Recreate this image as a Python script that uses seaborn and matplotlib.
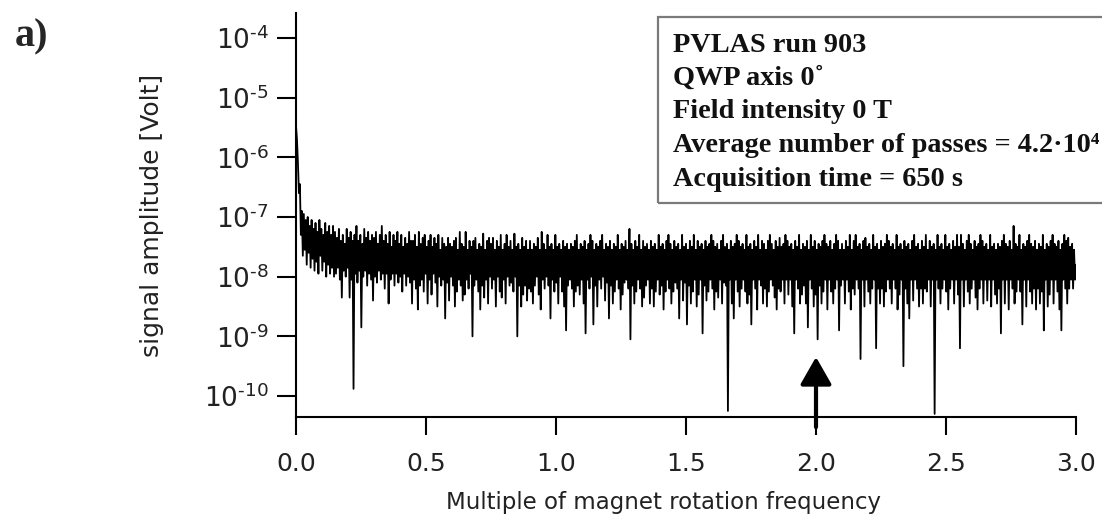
import numpy as np
import pandas as pd
import matplotlib
matplotlib.use("Agg")
import matplotlib.pyplot as plt
from matplotlib.patches import Rectangle
from matplotlib.ticker import NullLocator, FixedLocator
import seaborn as sns

# ---------------- data ----------------
freq_step = 0.00375         # bin spacing in multiples of the rotation frequency
# log10 of the signal amplitude [Volt], one value per bin from 0.0 to 3.0
log_amp = [
    # 0.00 - 0.15
    -5.47, -5.70, -6.10, -6.60, -6.45, -7.30, -6.90, -7.65, -6.95, -7.55, -7.05, -7.80, -7.00, -7.60, -7.15, -7.85, -7.05, -7.70, -7.20, -7.90,
    -7.10, -7.75, -7.25, -7.95, -7.05, -7.65, -7.20, -7.90, -7.30, -7.75, -7.10, -8.00, -7.25, -7.80, -7.15, -7.95, -7.30, -7.85, -7.15, -8.00,
    # 0.15 - 0.30
    -7.25, -7.95, -7.35, -7.85, -7.20, -8.05, -7.40, -8.35, -7.30, -7.90, -7.45, -8.00, -7.20, -7.85, -7.35, -8.35, -7.25, -8.05, -7.40, -9.88,
    -7.30, -7.95, -7.15, -8.10, -7.40, -7.90, -7.30, -8.85, -7.45, -8.00, -7.20, -7.90, -7.35, -8.15, -7.25, -7.95, -7.40, -8.05, -7.30, -8.40,
    # 0.30 - 0.45
    -7.35, -8.00, -7.25, -8.10, -7.45, -7.90, -7.30, -8.05, -7.15, -7.95, -7.40, -8.20, -7.30, -7.95, -7.45, -8.45, -7.25, -8.05, -7.50, -7.95,
    -7.30, -8.15, -7.40, -7.95, -7.25, -8.10, -7.45, -8.00, -7.30, -8.25, -7.50, -7.95, -7.35, -8.15, -7.45, -8.00, -7.25, -8.10, -7.40, -8.45,
    # 0.45 - 0.60
    -7.40, -8.05, -7.30, -8.20, -7.50, -8.55, -7.25, -8.15, -7.45, -8.05, -7.35, -8.25, -7.30, -7.95, -7.50, -8.45, -7.40, -8.05, -7.30, -8.30,
    -7.50, -7.95, -7.35, -8.10, -7.45, -8.50, -7.30, -8.00, -7.55, -8.15, -7.35, -8.05, -7.45, -8.70, -7.50, -8.10, -7.35, -8.40, -7.45, -8.00,
    # 0.60 - 0.75
    -7.50, -8.15, -7.40, -8.50, -7.35, -8.25, -7.55, -8.05, -7.25, -8.15, -7.45, -8.40, -7.50, -8.30, -7.25, -8.05, -7.55, -8.20, -7.40, -7.95,
    -7.50, -9.00, -7.40, -8.15, -7.35, -8.05, -7.55, -8.25, -7.45, -8.55, -7.50, -8.15, -7.28, -8.35, -7.55, -8.05, -7.40, -8.45, -7.35, -8.00,
    # 0.75 - 0.90
    -7.45, -8.20, -7.35, -8.05, -7.55, -8.50, -7.40, -8.00, -7.50, -8.25, -7.30, -8.35, -7.55, -8.05, -7.45, -8.45, -7.30, -8.00, -7.50, -8.15,
    -7.40, -8.10, -7.55, -8.25, -7.28, -8.00, -7.50, -9.00, -7.45, -8.15, -7.55, -8.50, -7.35, -8.30, -7.50, -8.15, -7.40, -8.40, -7.55, -8.20,
    # 0.90 - 1.05
    -7.40, -8.25, -7.55, -8.45, -7.45, -8.15, -7.50, -8.00, -7.35, -8.30, -7.55, -8.55, -7.25, -8.05, -7.45, -8.20, -7.55, -8.00, -7.30, -8.15,
    -7.50, -8.70, -7.45, -8.05, -7.55, -8.25, -7.30, -8.10, -7.50, -8.45, -7.45, -8.00, -7.55, -8.25, -7.40, -8.50, -7.50, -8.90, -7.45, -8.15,
    # 1.05 - 1.20
    -7.55, -8.05, -7.45, -8.20, -7.50, -8.50, -7.40, -8.25, -7.30, -8.15, -7.55, -8.30, -7.45, -8.05, -7.50, -8.45, -7.40, -8.95, -7.55, -8.05,
    -7.45, -8.20, -7.30, -8.00, -7.40, -8.80, -7.55, -8.15, -7.45, -8.50, -7.50, -8.05, -7.40, -8.20, -7.30, -8.00, -7.55, -8.40, -7.45, -8.10,
    # 1.20 - 1.35
    -7.50, -8.70, -7.40, -8.15, -7.55, -8.45, -7.45, -8.25, -7.50, -8.05, -7.30, -8.20, -7.55, -8.55, -7.45, -8.30, -7.50, -8.10, -7.40, -8.05,
    -7.55, -8.20, -7.20, -9.05, -7.45, -8.15, -7.55, -8.45, -7.40, -8.25, -7.50, -8.05, -7.30, -8.20, -7.55, -8.50, -7.40, -8.35, -7.50, -8.15,
    # 1.35 - 1.50
    -7.45, -8.05, -7.55, -8.45, -7.40, -8.20, -7.50, -8.50, -7.45, -8.25, -7.55, -8.05, -7.30, -8.30, -7.50, -8.15, -7.45, -8.55, -7.55, -8.25,
    -7.40, -8.05, -7.30, -8.20, -7.45, -8.45, -7.55, -8.25, -7.40, -8.10, -7.50, -8.20, -7.45, -8.70, -7.55, -8.05, -7.30, -8.40, -7.50, -8.10,
    # 1.50 - 1.65
    -7.45, -8.80, -7.55, -8.15, -7.40, -8.45, -7.50, -8.25, -7.30, -8.05, -7.55, -8.50, -7.40, -8.30, -7.50, -8.05, -7.45, -8.95, -7.55, -8.15,
    -7.40, -8.40, -7.50, -8.25, -7.45, -8.05, -7.30, -8.20, -7.40, -8.55, -7.50, -8.25, -7.45, -8.35, -7.55, -8.05, -7.40, -8.45, -7.30, -8.10,
    # 1.65 - 1.80
    -7.50, -8.15, -7.45, -10.25, -7.55, -8.05, -7.40, -8.45, -7.50, -8.70, -7.45, -8.05, -7.30, -8.25, -7.40, -8.50, -7.50, -8.20, -7.45, -8.05,
    -7.55, -8.25, -7.30, -8.45, -7.50, -8.30, -7.45, -8.80, -7.55, -8.05, -7.40, -8.20, -7.50, -8.55, -7.30, -8.05, -7.55, -8.15, -7.40, -8.45,
    # 1.80 - 1.95
    -7.45, -8.20, -7.55, -8.50, -7.40, -8.25, -7.30, -8.05, -7.45, -8.15, -7.55, -8.35, -7.40, -8.55, -7.50, -8.20, -7.35, -8.25, -7.50, -8.05,
    -7.45, -8.45, -7.30, -8.05, -7.40, -8.30, -7.50, -8.05, -7.45, -8.50, -7.55, -8.95, -7.40, -8.05, -7.50, -8.20, -7.30, -8.45, -7.55, -8.30,
    # 1.95 - 2.10
    -7.45, -8.15, -7.50, -8.45, -7.40, -8.85, -7.55, -8.05, -7.30, -8.20, -7.50, -8.50, -7.40, -8.30, -7.55, -9.05, -7.45, -8.15, -7.50, -8.45,
    -7.40, -8.25, -7.30, -8.05, -7.45, -8.55, -7.50, -8.05, -7.40, -8.25, -7.55, -8.45, -7.45, -8.20, -7.30, -8.05, -7.40, -8.90, -7.55, -8.15,
    # 2.10 - 2.25
    -7.45, -8.05, -7.55, -8.45, -7.40, -8.05, -7.50, -8.25, -7.30, -8.55, -7.55, -8.20, -7.40, -8.30, -7.30, -8.05, -7.50, -8.20, -7.45, -9.38,
    -7.55, -8.05, -7.40, -8.50, -7.35, -8.05, -7.50, -8.25, -7.45, -8.45, -7.55, -8.20, -7.30, -8.05, -7.50, -9.20, -7.45, -8.20, -7.55, -8.45,
    # 2.25 - 2.40
    -7.40, -8.20, -7.50, -8.50, -7.45, -8.25, -7.30, -8.05, -7.40, -8.20, -7.50, -8.45, -7.45, -8.05, -7.55, -8.20, -7.30, -8.55, -7.50, -8.30,
    -7.45, -8.05, -7.55, -9.50, -7.40, -8.20, -7.50, -8.45, -7.45, -8.70, -7.55, -8.05, -7.40, -8.40, -7.30, -8.05, -7.50, -8.20, -7.45, -8.50,
    # 2.40 - 2.55
    -7.55, -8.20, -7.40, -8.45, -7.50, -8.20, -7.30, -8.25, -7.55, -8.05, -7.40, -8.50, -7.50, -8.05, -7.45, -10.30, -7.55, -8.05, -7.30, -8.20,
    -7.50, -8.45, -7.45, -8.20, -7.55, -8.05, -7.30, -8.25, -7.50, -8.55, -7.45, -8.20, -7.55, -8.05, -7.40, -8.45, -7.50, -8.05, -7.30, -8.30,
    # 2.55 - 2.70
    -7.50, -9.20, -7.30, -8.05, -7.45, -8.50, -7.55, -8.05, -7.40, -8.25, -7.30, -8.45, -7.45, -8.20, -7.55, -8.05, -7.40, -8.35, -7.50, -8.55,
    -7.45, -8.20, -7.30, -8.05, -7.40, -8.45, -7.50, -8.05, -7.45, -8.40, -7.55, -8.05, -7.30, -8.50, -7.50, -8.05, -7.45, -8.30, -7.55, -8.45,
    # 2.70 - 2.85
    -7.45, -8.20, -7.50, -8.95, -7.40, -8.05, -7.30, -8.45, -7.45, -8.05, -7.50, -8.55, -7.40, -8.05, -7.55, -8.20, -7.15, -8.45, -7.45, -8.25,
    -7.50, -8.05, -7.30, -8.25, -7.55, -8.80, -7.45, -8.05, -7.50, -8.50, -7.40, -8.05, -7.30, -8.25, -7.45, -8.45, -7.50, -8.20, -7.40, -8.55,
    # 2.85 - 3.00
    -7.55, -8.20, -7.45, -8.45, -7.50, -8.25, -7.30, -8.90, -7.55, -8.05, -7.45, -8.50, -7.50, -8.30, -7.40, -8.05, -7.30, -8.45, -7.45, -8.05,
    -7.50, -8.25, -7.40, -8.55, -7.55, -8.90, -7.45, -8.05, -7.30, -8.20, -7.40, -8.45, -7.35, -8.20, -7.50, -8.05, -7.45, -8.20, -7.55, -8.05,
    -7.80,
]
x_ticks = [0.0, 0.5, 1.0, 1.5, 2.0, 2.5, 3.0]
x_tick_labels = ["0.0", "0.5", "1.0", "1.5", "2.0", "2.5", "3.0"]
y_ticks = [1e-10, 1e-9, 1e-8, 1e-7, 1e-6, 1e-5, 1e-4]
y_tick_labels = [r"$\mathdefault{10^{\text{-}10}}$", r"$\mathdefault{10^{\text{-}9}}$",
                 r"$\mathdefault{10^{\text{-}8}}$", r"$\mathdefault{10^{\text{-}7}}$",
                 r"$\mathdefault{10^{\text{-}6}}$", r"$\mathdefault{10^{\text{-}5}}$",
                 r"$\mathdefault{10^{\text{-}4}}$"]
arrow_x = 2.0
arrow_tip = 4.5e-10
info_lines = [
    "PVLAS run 903",
    "QWP axis 0\u02da",
    "Field intensity 0 T",
    "Average number of passes = 4.2\u00b710\u2074",
    "Acquisition time = 650 s",
]

df = pd.DataFrame({
    "freq": np.arange(len(log_amp)) * freq_step,
    "amp": 10.0 ** np.array(log_amp),
})

# ---------------- figure ----------------
sns.set_style("ticks")
plt.rcParams["font.family"] = ["DejaVu Sans"]
plt.rcParams["mathtext.fontset"] = "dejavusans"

W, H = 1102, 517
fig = plt.figure(figsize=(W / 100, H / 100), dpi=100)
ax = fig.add_axes([296 / W, (H - 417) / H, (1076 - 296) / W, (417 - 13) / H])

sns.lineplot(data=df, x="freq", y="amp", color="black", lw=1.3,
             estimator=None, sort=False, ax=ax, legend=False)

ax.set_yscale("log")
ax.set_xlim(0, 3.0)
ax.set_ylim(4.45e-11, 2.62e-4)

ax.xaxis.set_major_locator(FixedLocator(x_ticks))
ax.set_xticklabels(x_tick_labels)
ax.yaxis.set_major_locator(FixedLocator(y_ticks))
ax.set_yticklabels(y_tick_labels)
ax.yaxis.set_minor_locator(NullLocator())
ax.xaxis.set_minor_locator(NullLocator())

for s in ["top", "right"]:
    ax.spines[s].set_visible(False)
for s in ["left", "bottom"]:
    ax.spines[s].set_linewidth(1.5)
    ax.spines[s].set_color("black")

ax.tick_params(axis="x", direction="out", length=13, width=1.5, pad=12,
               labelsize=18, colors="black", labelcolor="#222222")
ax.tick_params(axis="y", direction="out", length=13.5, width=1.5, pad=6,
               labelsize=19, colors="black", labelcolor="#222222")

ax.set_xlabel("Multiple of magnet rotation frequency", fontsize=16.5, color="#222222")
ax.set_ylabel("signal amplitude [Volt]", fontsize=18, color="#222222")
ax.xaxis.set_label_coords((664 - 296) / 780, (417 - 491) / 404)
ax.yaxis.set_label_coords((164 - 296) / 780, 0.5)

# arrow marking twice the rotation frequency
ax.annotate("", xy=(arrow_x, arrow_tip), xycoords="data",
            xytext=(arrow_x, -0.025), textcoords=("data", "axes fraction"),
            arrowprops=dict(arrowstyle="-|>,head_length=0.7,head_width=0.4",
                            lw=3.0, color="black", mutation_scale=24,
                            shrinkA=0, shrinkB=0),
            annotation_clip=False)

# info box (extends past the right edge of the figure)
box = Rectangle((658 / W, (H - 203) / H), (1130 - 658) / W, (203 - 17) / H,
                transform=fig.transFigure, fill=False, edgecolor="#7a7a7a",
                lw=1.6, clip_on=False)
fig.add_artist(box)
line_y = [45, 78, 112, 145, 179]
for txt, yy in zip(info_lines, line_y):
    fig.text(673 / W, (H - yy) / H, txt, fontsize=20.3, fontweight="bold",
             family=["Liberation Serif", "DejaVu Serif"], va="center", ha="left",
             color="#111111")

fig.text(15 / W, (H - 46) / H, "a)", fontsize=29, fontweight="bold",
         family=["Liberation Serif", "DejaVu Serif"], va="baseline", ha="left")

fig.savefig("out.png", dpi=100)
